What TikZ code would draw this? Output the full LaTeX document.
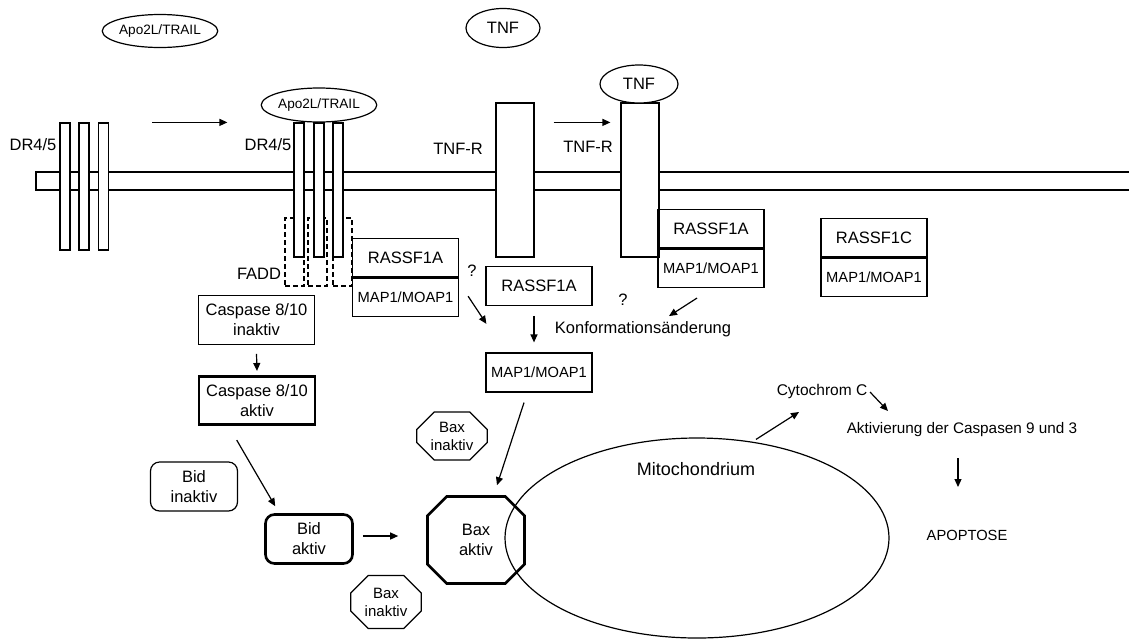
\documentclass[tikz,border=0pt]{standalone}
\usepackage{fontspec}
\setmainfont{Liberation Sans}
\usetikzlibrary{arrows.meta, positioning, shapes.geometric, shapes.misc, calc}

\begin{document}
\begin{tikzpicture}[
  x=1pt, y=-1pt,
  every node/.style={font=\fontsize{16.5}{20}\selectfont, inner sep=0pt},
  lig/.style={draw, ellipse, fill=white, line width=1.2pt},
  rec/.style={draw, fill=white, line width=1.2pt, minimum width=10pt},
  fadd/.style={draw, dash pattern=on 5pt off 3pt, line width=1.2pt, minimum width=19pt, minimum height=68pt},
  box/.style={draw, line width=1.2pt, minimum width=106pt, minimum height=38.5pt, align=center},
  small/.style={font=\fontsize{14.7}{17}\selectfont},
  casbox/.style={draw, align=center, minimum width=116pt, minimum height=48.5pt},
  bidbox/.style={draw, rounded corners=9pt, align=center, minimum width=87pt, minimum height=49pt},
  bax/.style={draw, chamfered rectangle, line width=1.2pt, align=center, font=\fontsize{15}{18}\selectfont},
  arrow/.style={-{Triangle[length=8pt, width=7pt]}, line width=1.2pt}
]
  \useasboundingbox (0,0) rectangle (1129,641);

  % membrane
  \draw[line width=1.3pt] (1129,172) -- (36,172) -- (36,190) -- (1129,190);

  % FADD
  \node[fadd] (fadd1) at (294.5,252) {};
  \node[fadd] (fadd2) at (317.5,252) {};
  \node[fadd] (fadd3) at (342.5,252) {};
  \node (faddl) at (259,274) {FADD};

  % receptors
  \foreach \x [count=\i] in {65,84,103.5}
    \node[rec, minimum height=127pt] (drA\i) at (\x,186.5) {};
  \foreach \x [count=\i] in {299,319,338}
    \node[rec, minimum height=134pt] (drB\i) at (\x,190) {};
  \node[rec, minimum width=38pt, minimum height=154pt] (tnfr1) at (515,180) {};
  \node[rec, minimum width=38pt, minimum height=154pt] (tnfr2) at (640,180) {};

  \node (drl1) at (33,145) {DR4/5};
  \node (drl2) at (268,145) {DR4/5};
  \node (tnfl1) at (458,149) {TNF-R};
  \node (tnfl2) at (588,147) {TNF-R};

  % ligands
  \node[lig, minimum width=106pt, minimum height=33pt, font=\fontsize{13.6}{16}\selectfont] (trail1) at (160,31) {Apo2L/TRAIL};
  \node[lig, minimum width=108pt, minimum height=34pt, font=\fontsize{13.6}{16}\selectfont] (trail2) at (319,105) {Apo2L/TRAIL};
  \node[lig, minimum width=74pt, minimum height=39pt] (tnf1) at (503,28) {TNF};
  \node[lig, minimum width=78pt, minimum height=38pt] (tnf2) at (639,84) {TNF};

  % RASSF1 complexes
  \node[box] (rassA) at (405.5,257.5) {RASSF1A};
  \node[box, small, anchor=north] (mapA) at (rassA.south) {MAP1/MOAP1};
  \node[box] (rassB) at (711,228.5) {RASSF1A};
  \node[box, small, anchor=north] (mapB) at (rassB.south) {MAP1/MOAP1};
  \node[box] (rassC) at (874,237.5) {RASSF1C};
  \node[box, small, anchor=north] (mapC) at (rassC.south) {MAP1/MOAP1};
  \node[box] (rassM) at (539,286) {RASSF1A};
  \node[box, small, minimum height=39pt] (mapM) at (539,372.5) {MAP1/MOAP1};
  \node (q1) at (472,271) {?};
  \node (q2) at (623,300) {?};
  \node (konf) at (643,329) {Konformationsänderung};

  % caspase / bid / bax
  \node[casbox, line width=1.2pt] (casin) at (256.5,320) {Caspase 8/10\\inaktiv};
  \node[casbox, line width=2.6pt] (casakt) at (257,400.5) {Caspase 8/10\\aktiv};
  \node[bidbox, line width=1.2pt] (bidin) at (194,486.5) {Bid\\inaktiv};
  \node[bidbox, line width=2.6pt] (bidakt) at (309,539) {Bid\\aktiv};
  \node[bax, minimum width=59pt, minimum height=48pt, chamfered rectangle xsep=14pt] (baxin1) at (452,436) {Bax\\inaktiv};
  \node[bax, minimum width=59pt, minimum height=53pt, chamfered rectangle xsep=14pt] (baxin2) at (386,602) {Bax\\inaktiv};
  \node[bax, line width=2.6pt, minimum width=97pt, minimum height=87pt, chamfered rectangle xsep=25pt, font=\fontsize{16.5}{20}\selectfont] (baxakt) at (476,540) {Bax\\aktiv};

  % mitochondrium
  \node[draw, ellipse, line width=1.2pt, minimum width=384pt, minimum height=200pt] (mito) at (697,538) {};
  \node[font=\fontsize{18}{20}\selectfont] (mitol) at (696,469) {Mitochondrium};
  \node[font=\fontsize{15.5}{18}\selectfont] (cytc) at (822,391) {Cytochrom C};
  \node[font=\fontsize{15.3}{18}\selectfont] (aktc) at (962,430) {Aktivierung der Caspasen 9 und 3};
  \node[font=\fontsize{14.7}{18}\selectfont] (apop) at (967,535) {APOPTOSE};

  % arrows
  \draw[arrow] ($(drA3.north east)+(43,0)$) -- ($(drB1.north west)+(-66,0)$);
  \draw[arrow] ($(tnfr1.north east)+(19,20)$) -- ($(tnfr2.north west)+(-10,20)$);
  \draw[arrow] ($(casin.south)+(0,9)$) -- ($(casakt.north)+(0,-4)$);
  \draw[arrow] ($(casakt.south west)+(39,14)$) -- ($(bidakt.north west)+(11,-7)$);
  \draw[arrow] ($(bidakt.east)+(9,-3)$) -- ($(baxakt.west)+(-28,-4)$);
  \draw[arrow] ($(mapM.south)+(-15,10)$) -- ($(baxakt.north)+(21,-10)$);
  \draw[arrow] ($(mapA.east)+(9,-1)$) -- ($(rassM.south west)+(1,18)$);
  \draw[arrow] ($(rassM.south)+(-5,10)$) -- ($(mapM.north)+(-5,-10)$);
  \draw[arrow] ($(mapB.south)+(-14,10)$) -- ($(mapB.south)+(-42,28)$);
  \draw[arrow] ($(mito.north)+(59,2)$) -- ($(cytc.center)+(-23,21)$);
  \draw[arrow] ($(cytc.center)+(48,1)$) -- ($(aktc.center)+(-74,-19)$);
  \draw[arrow] ($(aktc.center)+(-4,28)$) -- ($(apop.center)+(-9,-48)$);

\end{tikzpicture}
\end{document}
